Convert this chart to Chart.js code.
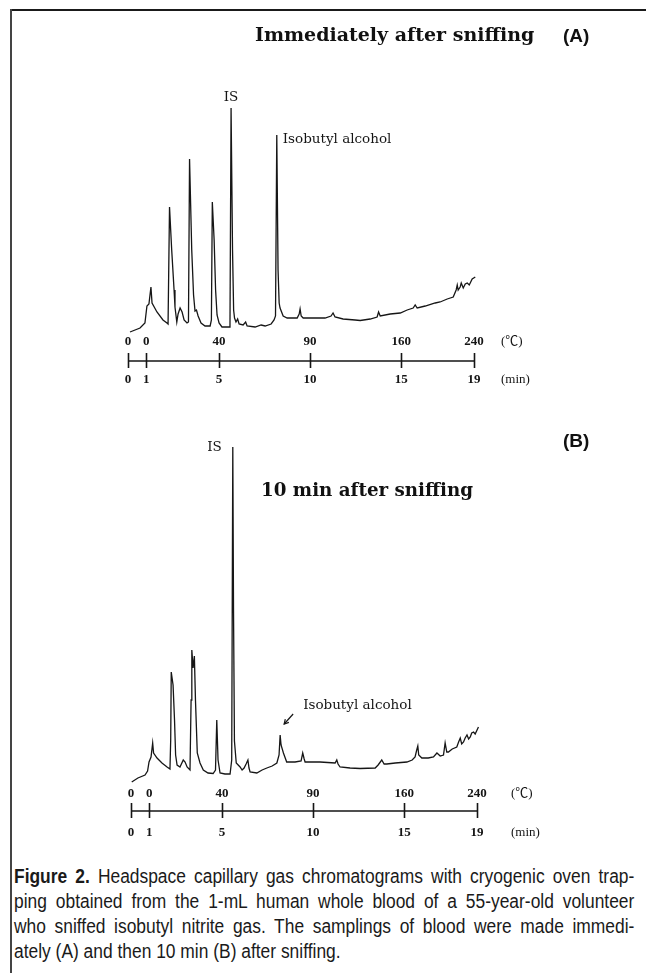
<!DOCTYPE html>
<html><head><meta charset="utf-8">
<script src="https://cdn.jsdelivr.net/npm/chart.js@4.4.0/dist/chart.umd.min.js"></script>
<style>
html,body{margin:0;padding:0;background:#fff;}
#page{position:relative;width:646px;height:973px;overflow:hidden;background:#fff;}
canvas{position:absolute;left:0;}
.frameTop{position:absolute;left:10px;top:9px;width:636px;height:2px;background:#1a1a1a;}
.frameLeft{position:absolute;left:10px;top:9px;width:2px;height:964px;background:#444;}
.title{position:absolute;font-family:"DejaVu Serif",serif;font-weight:bold;font-size:19px;line-height:19px;color:#111;white-space:nowrap;}
.tag{position:absolute;font-family:"Liberation Sans",Arial,sans-serif;font-weight:bold;font-size:19px;line-height:19px;color:#111;}
.cap{position:absolute;left:14px;width:713px;transform:scaleX(0.87);transform-origin:0 0;font-family:"Liberation Sans",Arial,sans-serif;font-size:20px;line-height:20px;color:#1a1a1a;text-align:justify;text-align-last:justify;}
.cap.last{text-align-last:left;}
</style>
</head><body>
<div id="page">
  <div class="frameTop"></div>
  <div class="frameLeft"></div>
  <canvas id="chartA" width="646" height="400" style="top:0px"></canvas>
  <canvas id="chartB" width="646" height="420" style="top:420px"></canvas>
  <div class="title" style="left:255px;top:25px">Immediately after sniffing</div>
  <div class="tag" style="left:563px;top:26px">(A)</div>
  <div class="title" style="left:261px;top:480px;font-size:18.3px">10 min after sniffing</div>
  <div class="tag" style="left:563px;top:431px">(B)</div>
  <div class="cap" style="top:866px"><b>Figure 2.</b> Headspace capillary gas chromatograms with cryogenic oven trap-</div>
  <div class="cap" style="top:891px">ping obtained from the 1-mL human whole blood of a 55-year-old volunteer</div>
  <div class="cap" style="top:916px">who sniffed isobutyl nitrite gas. The samplings of blood were made immedi-</div>
  <div class="cap last" style="top:941px">ately (A) and then 10 min (B) after sniffing.</div>
</div>
<script>
// ---- Data (time in min, detector response in arbitrary units) ----
const timeA = [0.11,0.66,0.93,1.04,1.15,1.26,1.32,1.59,1.92,2.14,2.20,2.28,2.40,2.53,2.58,2.68,2.75,2.86,2.97,3.08,3.24,3.32,3.38,3.50,3.60,3.68,3.76,3.85,4.01,4.23,4.51,4.58,4.63,4.73,4.81,4.89,5.00,5.16,5.55,5.60,5.66,5.74,5.80,5.85,5.93,6.02,6.10,6.32,6.46,6.54,6.98,7.31,7.53,7.86,8.02,8.10,8.17,8.24,8.30,8.35,8.52,8.74,9.29,9.40,9.45,9.51,9.62,10.82,11.15,11.26,11.37,11.81,12.47,12.75,13.30,13.68,13.76,13.85,14.40,14.95,15.33,15.66,15.77,15.88,16.32,16.87,17.14,17.53,17.86,18.02,18.08,18.13,18.24,18.30,18.41,18.52,18.63,18.74,18.90,19.07,19.18];
const signalA = [29,33,38,55,57,74,58,49,41,38,37,154,111,71,54,39,47,53,49,41,38,39,202,111,66,50,51,45,38,35,35,41,159,121,71,46,38,34,34,36,253,111,51,43,39,42,37,36,39,35,34,36,35,37,41,45,226,91,58,53,45,43,43,47,52,45,43,43,45,48,44,42,41,40.5,42,44,49,45,47,48,51,53,56,53,55,58,59,62,64,71,76,71,74,78,73,77,78,76,82,84,86];

const timeB = [0.04,0.38,0.77,0.91,0.99,1.10,1.19,1.24,1.43,1.70,1.98,2.14,2.18,2.21,2.31,2.39,2.45,2.53,2.69,2.87,2.97,3.08,3.24,3.30,3.34,3.41,3.48,3.54,3.64,3.79,3.97,4.23,4.51,4.64,4.71,4.78,4.89,5.16,5.44,5.53,5.59,5.63,5.68,5.78,5.99,6.10,6.21,6.32,6.42,6.48,6.54,6.91,7.20,7.46,7.75,8.01,8.13,8.19,8.24,8.37,8.55,9.01,9.34,9.43,9.51,9.56,10.38,11.21,11.30,11.37,11.48,12.03,12.58,13.41,13.57,13.77,13.90,14.05,14.51,15.15,15.44,15.60,15.69,15.75,15.80,15.97,16.32,16.61,16.80,16.98,17.16,17.25,17.34,17.43,17.64,17.89,17.99,18.08,18.16,18.26,18.35,18.45,18.54,18.63,18.71,18.81,18.90,19.08];
const signalB = [29,33,36,40,49,54,68,58,53,48,44,42,71,139,126,91,56,46,44,51,49,44,41,111,161,143,155,111,58,48,41,38,37.5,41,91,51,38,37,37,51,364,200,70,48,44,41,43,47,51,43,39,38,41,43,45,48,56,76,66,58,49,49,50,58,52,49,49,48,51,47,44,43,42.5,43,46,51,47,47,48,49,51,54,61,65,56,53,53,54,58,55,56,68,59,59,62,64,69,73,67,69,73,76,72,74,78,79,77,84];

// ---- Axis ticks: time programme (min) with oven temperature (°C) ----
const minTicks = [0, 1, 5, 10, 15, 19];
const minLabels = ['0', '1', '5', '10', '15', '19'];
const tempLabels = ['0', '0', '40', '90', '160', '240'];
const tempUnit = '(℃)';
const minUnit = '(min)';

// ---- Peak identifications ----
const peakNamesA = ['IS', 'Isobutyl alcohol'];
const peakTimesA = [5.66, 8.17];
const peakNamesB = ['IS', 'Isobutyl alcohol'];
const peakTimesB = [5.59, 8.19];

function peakValue(times, vals, t) {
  let best = 0;
  for (let i = 0; i < times.length; i++) if (Math.abs(times[i] - t) < Math.abs(times[best] - t)) best = i;
  return vals[best];
}

const gcAxisPlugin = {
  id: 'gcAxis',
  afterDraw(chart, args, o) {
    const ctx = chart.ctx, xs = chart.scales.x, ys = chart.scales.y;
    const yb = chart.chartArea.bottom;
    ctx.save();
    ctx.strokeStyle = '#151515';
    ctx.lineWidth = 1.7;
    const x0 = xs.getPixelForValue(minTicks[0]);
    const x1 = xs.getPixelForValue(minTicks[minTicks.length - 1]);
    ctx.beginPath(); ctx.moveTo(x0, yb); ctx.lineTo(x1, yb); ctx.stroke();
    ctx.lineWidth = 1.6;
    ctx.beginPath();
    minTicks.forEach(t => { const x = Math.round(xs.getPixelForValue(t)) + 0.5; ctx.moveTo(x, yb - 8); ctx.lineTo(x, yb + 7); });
    ctx.stroke();
    ctx.fillStyle = '#151515';
    ctx.font = 'bold 13px "Liberation Serif", serif';
    ctx.textAlign = 'center'; ctx.textBaseline = 'middle';
    minTicks.forEach((t, i) => {
      const x = xs.getPixelForValue(t);
      ctx.fillText(tempLabels[i], x, yb + o.tempDy);
      ctx.fillText(minLabels[i], x, yb + o.minDy);
    });
    ctx.textAlign = 'left';
    ctx.font = '13px "Liberation Serif", "Noto Sans CJK JP", serif';
    ctx.fillText(tempUnit, x1 + o.unitDx, yb + o.tempDy);
    ctx.fillText(minUnit, x1 + o.unitDx, yb + o.minDy);
    // peak labels
    ctx.font = '13.5px "DejaVu Serif", serif';
    o.peaks.forEach(p => {
      const v = peakValue(p.times, p.vals, p.t);
      const px = xs.getPixelForValue(p.t), py = ys.getPixelForValue(v);
      ctx.textAlign = p.align;
      ctx.fillText(p.text, px + p.dx, py + p.dy);
      if (p.arrow) {
        const ax = px + p.arrow[0], ay = py + p.arrow[1], bx = px + p.arrow[2], by = py + p.arrow[3];
        ctx.lineWidth = 1.2;
        ctx.beginPath(); ctx.moveTo(ax, ay); ctx.lineTo(bx, by); ctx.stroke();
        const ang = Math.atan2(by - ay, bx - ax);
        ctx.beginPath();
        ctx.moveTo(bx - 5 * Math.cos(ang - 0.5), by - 5 * Math.sin(ang - 0.5));
        ctx.lineTo(bx, by);
        ctx.lineTo(bx - 5 * Math.cos(ang + 0.5), by - 5 * Math.sin(ang + 0.5));
        ctx.stroke();
      }
    });
    ctx.restore();
  }
};

function makeChart(id, times, vals, yMax, pad, axisOpts) {
  return new Chart(document.getElementById(id), {
    type: 'line',
    data: {
      datasets: [{
        data: times.map((t, i) => ({ x: t, y: vals[i] })),
        borderColor: '#161616',
        borderWidth: 1.3,
        pointRadius: 0,
        tension: 0,
        fill: false,
        clip: false
      }]
    },
    options: {
      responsive: false,
      animation: false,
      devicePixelRatio: 1,
      layout: { padding: pad },
      scales: {
        x: { type: 'linear', min: 0, max: 19, display: false },
        y: { type: 'linear', min: 0, max: yMax, display: false }
      },
      plugins: { legend: { display: false }, tooltip: { enabled: false }, gcAxis: axisOpts }
    },
    plugins: [gcAxisPlugin]
  });
}

makeChart('chartA', timeA, signalA, 260,
  { left: 128, right: 172, top: 101, bottom: 39 },
  { tempDy: -19, minDy: 19, unitDx: 27,
    peaks: [
      { text: peakNamesA[0], t: peakTimesA[0], times: timeA, vals: signalA, align: 'center', dx: 0, dy: -11 },
      { text: peakNamesA[1], t: peakTimesA[1], times: timeA, vals: signalA, align: 'left', dx: 6, dy: 4 }
    ] });

makeChart('chartB', timeB, signalB, 370,
  { left: 131, right: 169, top: 21, bottom: 29 },
  { tempDy: -17, minDy: 22, unitDx: 34,
    peaks: [
      { text: peakNamesB[0], t: peakTimesB[0], times: timeB, vals: signalB, align: 'right', dx: -11, dy: 0 },
      { text: peakNamesB[1], t: peakTimesB[1], times: timeB, vals: signalB, align: 'left', dx: 23, dy: -30, arrow: [13, -21, 4, -11] }
    ] });
</script>
</body></html>
